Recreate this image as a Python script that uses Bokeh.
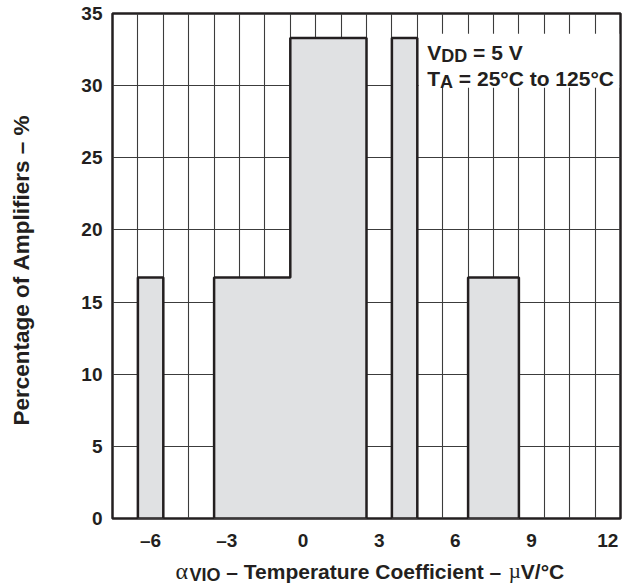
import math
from bokeh.plotting import figure
from bokeh.layouts import column, row
from bokeh.models import Range1d, FixedTicker, Label, BoxAnnotation
from bokeh.embed import file_html
from bokeh.resources import INLINE

# ---- data ----
bin_left = [-6.5, -3.5, -0.5, 3.5, 6.5]
bin_right = [-5.5, -0.5, 2.5, 4.5, 8.5]
percent = [16.7, 16.7, 33.3, 33.3, 16.7]
x_tick_values = [-6, -3, 0, 3, 6, 9, 12]
x_tick_labels = ["–6", "–3", "0", "3", "6", "9", "12"]
y_tick_values = [0, 5, 10, 15, 20, 25, 30, 35]
x_grid_values = [k + 0.5 for k in range(-7, 12)]

INK = "#231f20"
FILL = "#e0e1e3"
SANS = "Liberation Sans"
SERIF = "Liberation Serif"
NB = "\u00a0"

MAIN_H = 558   # 13 top + 505 frame + 40 bottom
XLAB_H = 30

# Arial/Liberation Sans Bold advance widths (per 1000 em)
W = {" ": 278, NB: 278, "–": 556, "=": 584, "/": 278, "°": 400, "%": 889,
     "A": 722, "C": 722, "D": 722, "I": 278, "O": 778, "T": 611, "V": 667, "P": 667,
     "a": 556, "c": 556, "e": 556, "f": 333, "g": 611, "i": 278, "l": 278, "m": 889,
     "n": 611, "o": 611, "p": 611, "r": 389, "s": 556, "t": 333, "u": 611,
     "α": 580, "µ": 580}


def tw(s, size):
    return sum(W.get(c, 556) for c in s) * size / 1000.0


def add_pieces(fig, pieces, x, y, start_off=0.0):
    off = start_off
    for text, size, font, style, dy in pieces:
        fig.add_layout(Label(x=x, y=y, x_offset=off, y_offset=dy,
                             text=text.replace(" ", NB),
                             text_font=font, text_font_size=f"{size}px",
                             text_font_style=style, text_color=INK,
                             text_align="left", text_baseline="alphabetic"))
        off += tw(text, size)


# ---------------- main plot ----------------
p = figure(frame_width=508, frame_height=505,
           x_range=Range1d(-7.5, 12.5), y_range=Range1d(0, 35),
           output_backend="svg", toolbar_location=None,
           min_border_left=52, min_border_right=3,
           min_border_top=13, min_border_bottom=MAIN_H - 13 - 505)
p.background_fill_color = "white"
p.border_fill_color = "white"
p.outline_line_color = INK
p.outline_line_width = 2.5

p.xgrid.ticker = FixedTicker(ticks=x_grid_values)
p.ygrid.ticker = FixedTicker(ticks=y_tick_values)
for g in (p.xgrid, p.ygrid):
    g.grid_line_color = "#3c3c3c"
    g.grid_line_width = 1.1

p.xaxis.ticker = FixedTicker(ticks=x_tick_values)
p.xaxis.major_label_overrides = {v: s for v, s in zip(x_tick_values, x_tick_labels)}
p.yaxis.ticker = FixedTicker(ticks=y_tick_values)
for ax in (p.xaxis, p.yaxis):
    ax.axis_line_color = None
    ax.major_tick_line_color = None
    ax.minor_tick_line_color = None
    ax.major_tick_out = 0
    ax.major_tick_in = 0
    ax.minor_tick_out = 0
    ax.minor_tick_in = 0
    ax.major_label_text_font = SANS
    ax.major_label_text_font_style = "bold"
    ax.major_label_text_font_size = "19px"
    ax.major_label_text_color = INK
p.xaxis.major_label_standoff = 11
p.yaxis.major_label_standoff = 10

# white box behind the annotation text
p.add_layout(BoxAnnotation(left=4.55, right=12.45, bottom=29.85, top=33.6,
                           fill_color="white", fill_alpha=1.0, line_color=None,
                           level="underlay"))

# histogram outline of contiguous runs of bins
xs, ys = [], []
i, n = 0, len(bin_left)
while i < n:
    px, py = [bin_left[i]], [0]
    j = i
    while True:
        px += [bin_left[j], bin_right[j]]
        py += [percent[j], percent[j]]
        if j + 1 < n and abs(bin_left[j + 1] - bin_right[j]) < 1e-9:
            j += 1
        else:
            break
    px.append(bin_right[j])
    py.append(0)
    xs.append(px)
    ys.append(py)
    i = j + 1
p.patches(xs, ys, fill_color=FILL, line_color=INK, line_width=2.5)

# annotation text (anchored at frame bottom-left, offsets in px)
add_pieces(p, [("V", 21, SANS, "bold", 466.3), ("DD", 18, SANS, "bold", 462.8),
               (" = 5 V", 21, SANS, "bold", 466.3)], -7.5, 0, 314.7)
add_pieces(p, [("T", 21, SANS, "bold", 439.7), ("A", 18, SANS, "bold", 436.2),
               (" = 25°C to 125°C", 21, SANS, "bold", 439.7)], -7.5, 0, 314.7)

# ---------------- y label panel ----------------
yfig = figure(width=60, height=MAIN_H, x_range=Range1d(0, 60), y_range=Range1d(0, MAIN_H),
              x_axis_type=None, y_axis_type=None, output_backend="svg",
              toolbar_location=None, min_border=0)
yfig.outline_line_color = None
yfig.grid.visible = False
yfig.add_layout(Label(x=20.5, y=MAIN_H - 271 - 13, text="Percentage of Amplifiers – %".replace(" ", NB),
                      angle=math.pi / 2, text_font=SANS, text_font_size="22.5px",
                      text_font_style="bold", text_color=INK,
                      text_align="center", text_baseline="alphabetic"))

# ---------------- x label panel ----------------
xfig = figure(width=623, height=XLAB_H, x_range=Range1d(0, 623), y_range=Range1d(0, XLAB_H),
              x_axis_type=None, y_axis_type=None, output_backend="svg",
              toolbar_location=None, min_border=0)
xfig.outline_line_color = None
xfig.grid.visible = False
base = XLAB_H - (579.3 - MAIN_H) + 8.5
add_pieces(xfig, [("α", 24, SERIF, "normal", 0), ("VIO", 18, SANS, "bold", -4),
                  (" – Temperature Coefficient – ", 21, SANS, "bold", 0),
                  ("µ", 21, SERIF, "normal", 0), ("V/°C", 21, SANS, "bold", 0)],
           175, base, 0)

layout = column(row(yfig, p), xfig)
open("out.html", "w").write(file_html(layout, INLINE))
